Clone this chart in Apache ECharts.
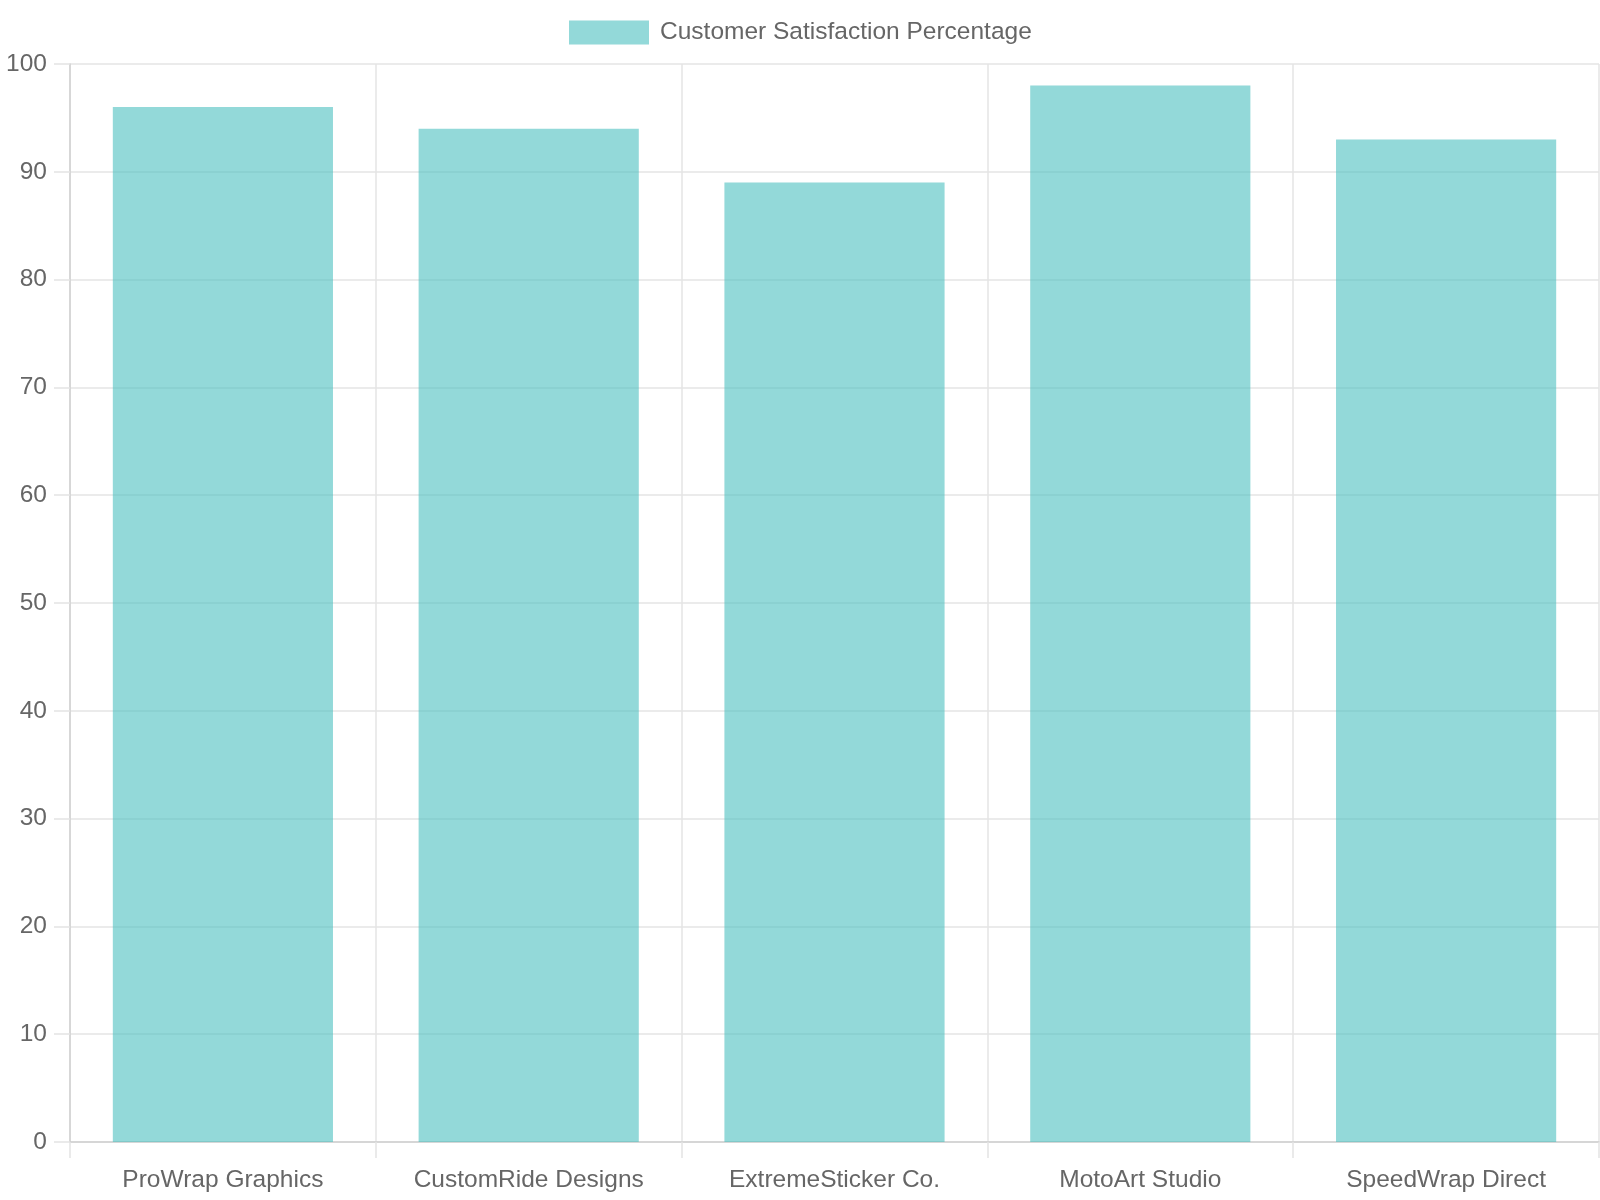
<!DOCTYPE html>
<html>
<head>
<meta charset="utf-8">
<script src="https://cdn.jsdelivr.net/npm/echarts@6/dist/echarts.min.js"></script>
<style>
  html, body { margin: 0; padding: 0; background: #fff; }
  #chart { width: 1600px; height: 1200px; }
</style>
</head>
<body>
<div id="chart"></div>
<script>
// data
var categories = ['ProWrap Graphics', 'CustomRide Designs', 'ExtremeSticker Co.', 'MotoArt Studio', 'SpeedWrap Direct'];
var satisfaction = [96, 94, 89, 98, 93];
var seriesName = 'Customer Satisfaction Percentage';

var fontFamily = '"Liberation Sans", Arial, sans-serif';
var gridColor = '#e4e4e4';
var axisColor = '#d0d0d0';
var textColor = '#666';

var myChart = echarts.init(document.getElementById('chart'));

myChart.setOption({
  animation: false,
  textStyle: { fontFamily: fontFamily },
  legend: {
    data: [seriesName],
    left: 569,
    top: 20,
    padding: 0,
    icon: 'rect',
    itemWidth: 80,
    itemHeight: 24,
    textStyle: { fontSize: 24.5, color: textColor, padding: [0, 0, 0, 6] }
  },
  grid: { left: 70, right: 1, top: 64, bottom: 58 },
  xAxis: {
    type: 'category',
    data: categories,
    axisLine: { lineStyle: { color: axisColor, width: 1.5 } },
    axisTick: { show: true, length: 16, lineStyle: { color: gridColor, width: 1.5 } },
    axisLabel: { fontSize: 24.5, color: textColor, margin: 26 },
    splitLine: { show: true, lineStyle: { color: gridColor, width: 1.5 } }
  },
  yAxis: {
    type: 'value',
    min: 0,
    max: 100,
    interval: 10,
    axisLine: { show: true, lineStyle: { color: axisColor, width: 1.5 } },
    axisTick: { show: true, length: 16, lineStyle: { color: gridColor, width: 1.5 } },
    axisLabel: { fontSize: 24.5, color: textColor, margin: 23 },
    splitLine: { show: true, lineStyle: { color: gridColor, width: 1.5 } }
  },
  series: [
    {
      name: seriesName,
      type: 'bar',
      data: satisfaction,
      barCategoryGap: '28%',
      itemStyle: { color: 'rgba(75, 192, 192, 0.6)' }
    }
  ]
});
</script>
</body>
</html>
